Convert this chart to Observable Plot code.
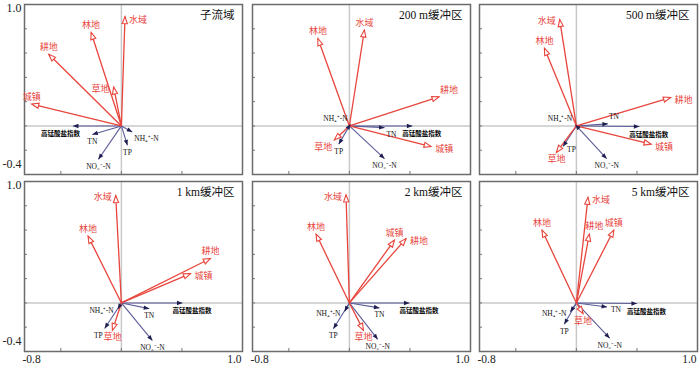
<!DOCTYPE html>
<html><head><meta charset="utf-8">
<script src="https://cdn.jsdelivr.net/npm/d3@7"></script>
<script src="https://cdn.jsdelivr.net/npm/@observablehq/plot@0.6"></script>
<style>
body{margin:0;background:#fff;}
#wrap{position:relative;width:700px;height:366px;overflow:hidden;background:#fff;}
#wrap svg{position:absolute;overflow:visible;background:transparent;}
</style></head><body><div id="wrap"></div>
<script>
// ---------- data ----------
const panelTitles = ["子流域", "200 m缓冲区", "500 m缓冲区", "1 km缓冲区", "2 km缓冲区", "5 km缓冲区"];
const landUse = ["耕地", "林地", "草地", "水域", "城镇"];
// RDA axis 1 / axis 2 scores of land-use arrows, one row per panel
const landAxis1 = [
  [-0.60, -0.25, -0.064, 0.03, -0.74],
  [0.74, -0.26, -0.124, 0.124, 0.675],
  [0.777, -0.264, -0.165, -0.138, 0.617],
  [0.735, -0.275, -0.074, -0.047, 0.57],
  [0.468, -0.275, 0.116, -0.028, 0.372],
  [0.107, -0.284, 0.055, 0.096, 0.309]
];
const landAxis2 = [
  [0.59, 0.77, 0.32, 0.90, 0.18],
  [0.24, 0.72, -0.116, 0.79, -0.17],
  [0.234, 0.64, -0.218, 0.876, -0.15],
  [0.366, 0.55, -0.226, 0.884, 0.242],
  [0.53, 0.567, -0.226, 0.89, 0.518],
  [0.567, 0.60, -0.088, 0.87, 0.60]
];
const waterVars = ["高锰酸盐指数", "TN", "NH₄⁺-N", "TP", "NO₃⁻-N"];
const waterAxis1 = [
  [-0.40, -0.24, 0.09, 0.05, -0.19],
  [0.52, 0.29, 0.01, -0.088, 0.29],
  [0.52, 0.26, -0.01, -0.11, 0.25],
  [0.504, 0.23, -0.03, -0.138, 0.256],
  [0.496, 0.248, -0.04, -0.132, 0.234],
  [0.50, 0.253, -0.05, -0.10, 0.275]
];
const waterAxis2 = [
  [0, -0.07, -0.05, -0.16, -0.275],
  [0, -0.014, 0.015, -0.15, -0.27],
  [-0.005, 0.017, 0.01, -0.17, -0.27],
  [0, -0.047, -0.05, -0.21, -0.31],
  [0, -0.041, -0.07, -0.212, -0.30],
  [-0.005, -0.033, -0.074, -0.176, -0.29]
];
const xDomain = [-0.8, 1.0];
const yDomain = [-0.4, 1.0];
const xTickLabels = ["-0.8", "1.0"];
const yTickLabels = ["1.0", "-0.4"];
const xMinorTicks = [-0.5, 0, 0.5];
const yMinorTicks = [-0.2, 0, 0.2, 0.4, 0.6, 0.8];

// ---------- label placement (layout) ----------
const landSides = [
  ["t", "t", "l", "r", "t"],
  ["tr", "t", "bl", "t", "r"],
  ["r", "t", "b", "l", "r"],
  ["t", "t", "b", "l", "r"],
  ["r", "t", "b", "l", "t"],
  ["tc", "t", "b", "r", "t"]
];
const waterSides = [
  ["be", "b", "br", "b", "b"],
  ["bs", "br", "tl", "b", "b"],
  ["bs", "tr", "tl", "r", "b"],
  ["bs", "b", "l", "bl", "b"],
  ["bs", "b", "l", "b", "b"],
  ["bs", "r", "l", "b", "b"]
];
const sideStyle = {
  t: {textAnchor: "middle", dx: 0, dy: -7},
  b: {textAnchor: "middle", dx: 0, dy: 7},
  l: {textAnchor: "end", dx: -4, dy: 2},
  r: {textAnchor: "start", dx: 4, dy: 3},
  tr: {textAnchor: "start", dx: 1, dy: -7},
  tc: {textAnchor: "start", dx: -4, dy: -8},
  tl: {textAnchor: "end", dx: -3, dy: -6},
  bl: {textAnchor: "end", dx: -2, dy: 7},
  br: {textAnchor: "start", dx: 2, dy: 7},
  bs: {textAnchor: "start", dx: -10, dy: 8},
  be: {textAnchor: "end", dx: 7, dy: 8}
};

const RED = "#e8453c";
const BLUE_LINE = "#5c5c98";
const BLUE_HEAD = "#1e1e50";
const SERIF = "'Liberation Serif','Times New Roman','Noto Sans CJK SC',serif";
const CJK = "'Noto Sans CJK SC',sans-serif";

const openHead = {draw(ctx) { ctx.moveTo(0, 0); ctx.lineTo(2.6, 7); ctx.lineTo(-2.6, 7); ctx.closePath(); }};
const fillHead = {draw(ctx) { ctx.moveTo(0, 0); ctx.lineTo(2.2, 5.5); ctx.lineTo(-2.2, 5.5); ctx.closePath(); }};
const angle = d => Math.atan2(d.x, d.y) * 180 / Math.PI;

const frameLefts = [24, 252, 479];
const frameTops = [4, 181];
const wrap = document.getElementById("wrap");

panelTitles.forEach((title, i) => {
  const col = i % 3, row = Math.floor(i / 3);
  const land = landUse.map((name, j) => ({name, x: landAxis1[i][j], y: landAxis2[i][j], side: landSides[i][j]}));
  const water = waterVars.map((name, j) => ({name, x: waterAxis1[i][j], y: waterAxis2[i][j], side: waterSides[i][j]}));
  const labelMarks = [];
  for (const s of Object.keys(sideStyle)) {
    const st = sideStyle[s];
    const l = land.filter(d => d.side === s);
    if (l.length) labelMarks.push(Plot.text(l, {x: "x", y: "y", text: "name", fill: RED, fontSize: 9, fontFamily: CJK, ...st}));
    const w = water.filter(d => d.side === s && d.name !== "高锰酸盐指数");
    if (w.length) labelMarks.push(Plot.text(w, {x: "x", y: "y", text: "name", fill: "#111", fontSize: 7.5, fontFamily: SERIF, ...st}));
    const k = water.filter(d => d.side === s && d.name === "高锰酸盐指数");
    if (k.length) labelMarks.push(Plot.text(k, {x: "x", y: "y", text: "name", fill: "#000", fontSize: 6.5, fontWeight: "bold", fontFamily: CJK, ...st}));
  }
  const axisMarks = [];
  if (col === 0) {
    axisMarks.push(Plot.text([yDomain[1]], {x: () => xDomain[0], y: d => d, text: () => yTickLabels[0], textAnchor: "end", dx: -3, dy: 4, fontSize: 12, fontFamily: SERIF, fill: "#222"}));
    axisMarks.push(Plot.text([yDomain[0]], {x: () => xDomain[0], y: d => d, text: () => yTickLabels[1], textAnchor: "end", dx: -3, dy: -10, fontSize: 12, fontFamily: SERIF, fill: "#222"}));
  }
  if (row === 1) {
    axisMarks.push(Plot.text([xDomain[0]], {x: d => d, y: () => yDomain[0], text: () => xTickLabels[0], textAnchor: "start", dx: -2, dy: 8, fontSize: 11.5, fontFamily: SERIF, fill: "#222"}));
    axisMarks.push(Plot.text([xDomain[1]], {x: d => d, y: () => yDomain[0], text: () => xTickLabels[1], textAnchor: "end", dx: -1, dy: 8, fontSize: 11.5, fontFamily: SERIF, fill: "#222"}));
  }
  const svg = Plot.plot({
    width: 246, height: 190,
    marginLeft: 24, marginRight: 4, marginTop: 4, marginBottom: 16,
    x: {domain: xDomain, axis: null},
    y: {domain: yDomain, axis: null},
    style: {background: "transparent", overflow: "visible"},
    marks: [
      Plot.ruleX([0], {stroke: "#c9c9c9", strokeWidth: 1.5}),
      Plot.ruleY([0], {stroke: "#c9c9c9", strokeWidth: 1.5}),
      Plot.ruleX(xMinorTicks, {y1: () => yDomain[0], y2: () => yDomain[0] + 0.025, stroke: "#777"}),
      Plot.ruleY(yMinorTicks, {x1: () => xDomain[0], x2: () => xDomain[0] + 0.025, stroke: "#777"}),
      Plot.frame({stroke: "#6b6b6b", strokeWidth: 1.5}),
      Plot.link(water, {x1: () => 0, y1: () => 0, x2: "x", y2: "y", stroke: BLUE_LINE, strokeWidth: 1.1}),
      Plot.link(land, {x1: () => 0, y1: () => 0, x2: "x", y2: "y", stroke: RED, strokeWidth: 1.3}),
      Plot.dot(water, {x: "x", y: "y", symbol: fillHead, rotate: angle, r: 3, fill: BLUE_HEAD, stroke: "none"}),
      Plot.dot(land, {x: "x", y: "y", symbol: openHead, rotate: angle, r: 3, fill: "white", stroke: RED, strokeWidth: 1.1}),
      ...labelMarks,
      Plot.text([title], {frameAnchor: "top-right", text: d => d, dx: -8, dy: 6, fontSize: 11.5, fontFamily: SERIF, fill: "#111"}),
      ...axisMarks
    ]
  });
  svg.style.left = (frameLefts[col] - 24) + "px";
  svg.style.top = (frameTops[row] - 4) + "px";
  wrap.appendChild(svg);
});
</script>
</body></html>
